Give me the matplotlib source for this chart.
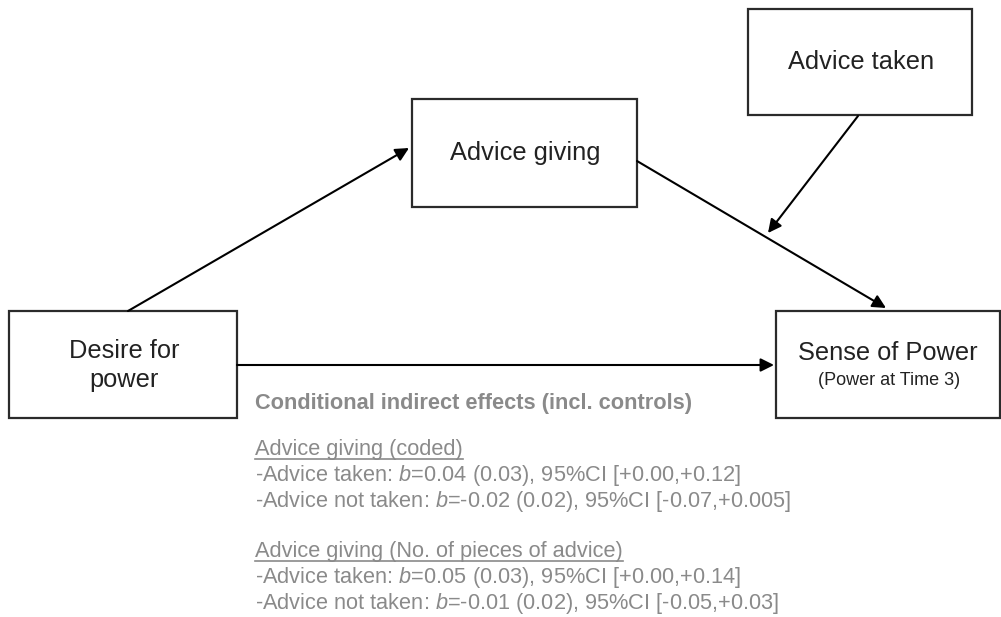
import matplotlib
matplotlib.use("Agg")
import matplotlib.pyplot as plt
from matplotlib.patches import Rectangle

plt.rcParams['font.family'] = ['Liberation Sans', 'DejaVu Sans']
plt.rcParams['mathtext.fontset'] = 'custom'
plt.rcParams['mathtext.rm'] = 'Liberation Sans'
plt.rcParams['mathtext.it'] = 'Liberation Sans:italic'

# ---- content ----
node_names = ["desire", "giving", "taken", "sense"]
node_labels = ["Desire for\npower", "Advice giving", "Advice taken", "Sense of Power"]
node_sublabels = ["", "", "", "(Power at Time 3)"]
header = "Conditional indirect effects (incl. controls)"
section_titles = ["Advice giving (coded)", "Advice giving (No. of pieces of advice)"]
effect_b = [["0.04", "-0.02"], ["0.05", "-0.01"]]
effect_se = [["0.03", "0.02"], ["0.03", "0.02"]]
effect_ci = [["[+0.00,+0.12]", "[-0.07,+0.005]"], ["[+0.00,+0.14]", "[-0.05,+0.03]"]]
conditions = ["Advice taken", "Advice not taken"]

# ---- layout (pixel coords) ----
boxes = {
    "desire": (9, 311, 237, 418),
    "giving": (412, 99, 637, 207),
    "taken": (748, 9, 972, 115),
    "sense": (776, 311, 1000, 418),
}

fig = plt.figure(figsize=(10.01, 6.17), dpi=100)
ax = fig.add_axes([0, 0, 1, 1])
ax.set_xlim(0, 1001)
ax.set_ylim(617, 0)
ax.axis('off')

edge = '#2b2b2b'
label_fs = 18.3
for name, label, sub in zip(node_names, node_labels, node_sublabels):
    x0, y0, x1, y1 = boxes[name]
    ax.add_patch(Rectangle((x0, y0), x1 - x0, y1 - y0, fill=False, ec=edge, lw=1.6))
    cx = (x0 + x1) / 2
    cy = (y0 + y1) / 2
    if sub:
        ax.text(cx, cy - 11, label, ha='center', va='center', fontsize=label_fs, color='#222222')
        ax.text(cx + 1, cy + 16, sub, ha='center', va='center', fontsize=13, color='#222222')
    elif name == "desire":
        ax.text(cx + 1, cy + 1, label, ha='center', va='center', fontsize=label_fs, color='#222222',
                linespacing=1.25)
    else:
        ax.text(cx + 1, cy, label, ha='center', va='center', fontsize=label_fs, color='#222222')

arrows = [
    ((128, 311), (409, 148)),
    ((637, 161), (886, 308)),
    ((858, 116), (768, 233)),
    ((237, 365), (774, 365)),
]
for (sx, sy), (ex, ey) in arrows:
    ax.annotate("", xy=(ex, ey), xytext=(sx, sy),
                arrowprops=dict(arrowstyle='-|>', color='black', lw=1.5,
                                mutation_scale=20, shrinkA=0, shrinkB=0))

gray = '#8a8a8a'
tx = 255
body_fs = 15.7
ax.text(tx, 403, header, ha='left', va='center', fontsize=body_fs, fontweight='bold', color=gray)

fig.canvas.draw()
renderer = fig.canvas.get_renderer()
ys = [450, 552]
offsets = [26, 51]
for s, title in enumerate(section_titles):
    y = ys[s]
    t = ax.text(tx, y, title, ha='left', va='center', fontsize=body_fs, color=gray)
    bb = t.get_window_extent(renderer=renderer)
    inv = ax.transData.inverted()
    (bx0, _), (bx1, _) = inv.transform([(bb.x0, bb.y0), (bb.x1, bb.y0)])
    ax.plot([bx0, bx1], [y + 9, y + 9], color=gray, lw=1.2)
    for k, cond in enumerate(conditions):
        line = (f"-{cond}: $\\it{{b}}$={effect_b[s][k]} ({effect_se[s][k]}), "
                f"95%CI {effect_ci[s][k]}")
        ax.text(tx, y + offsets[k], line, ha='left', va='center', fontsize=body_fs, color=gray)

fig.savefig("out.png", dpi=100, facecolor='white')
